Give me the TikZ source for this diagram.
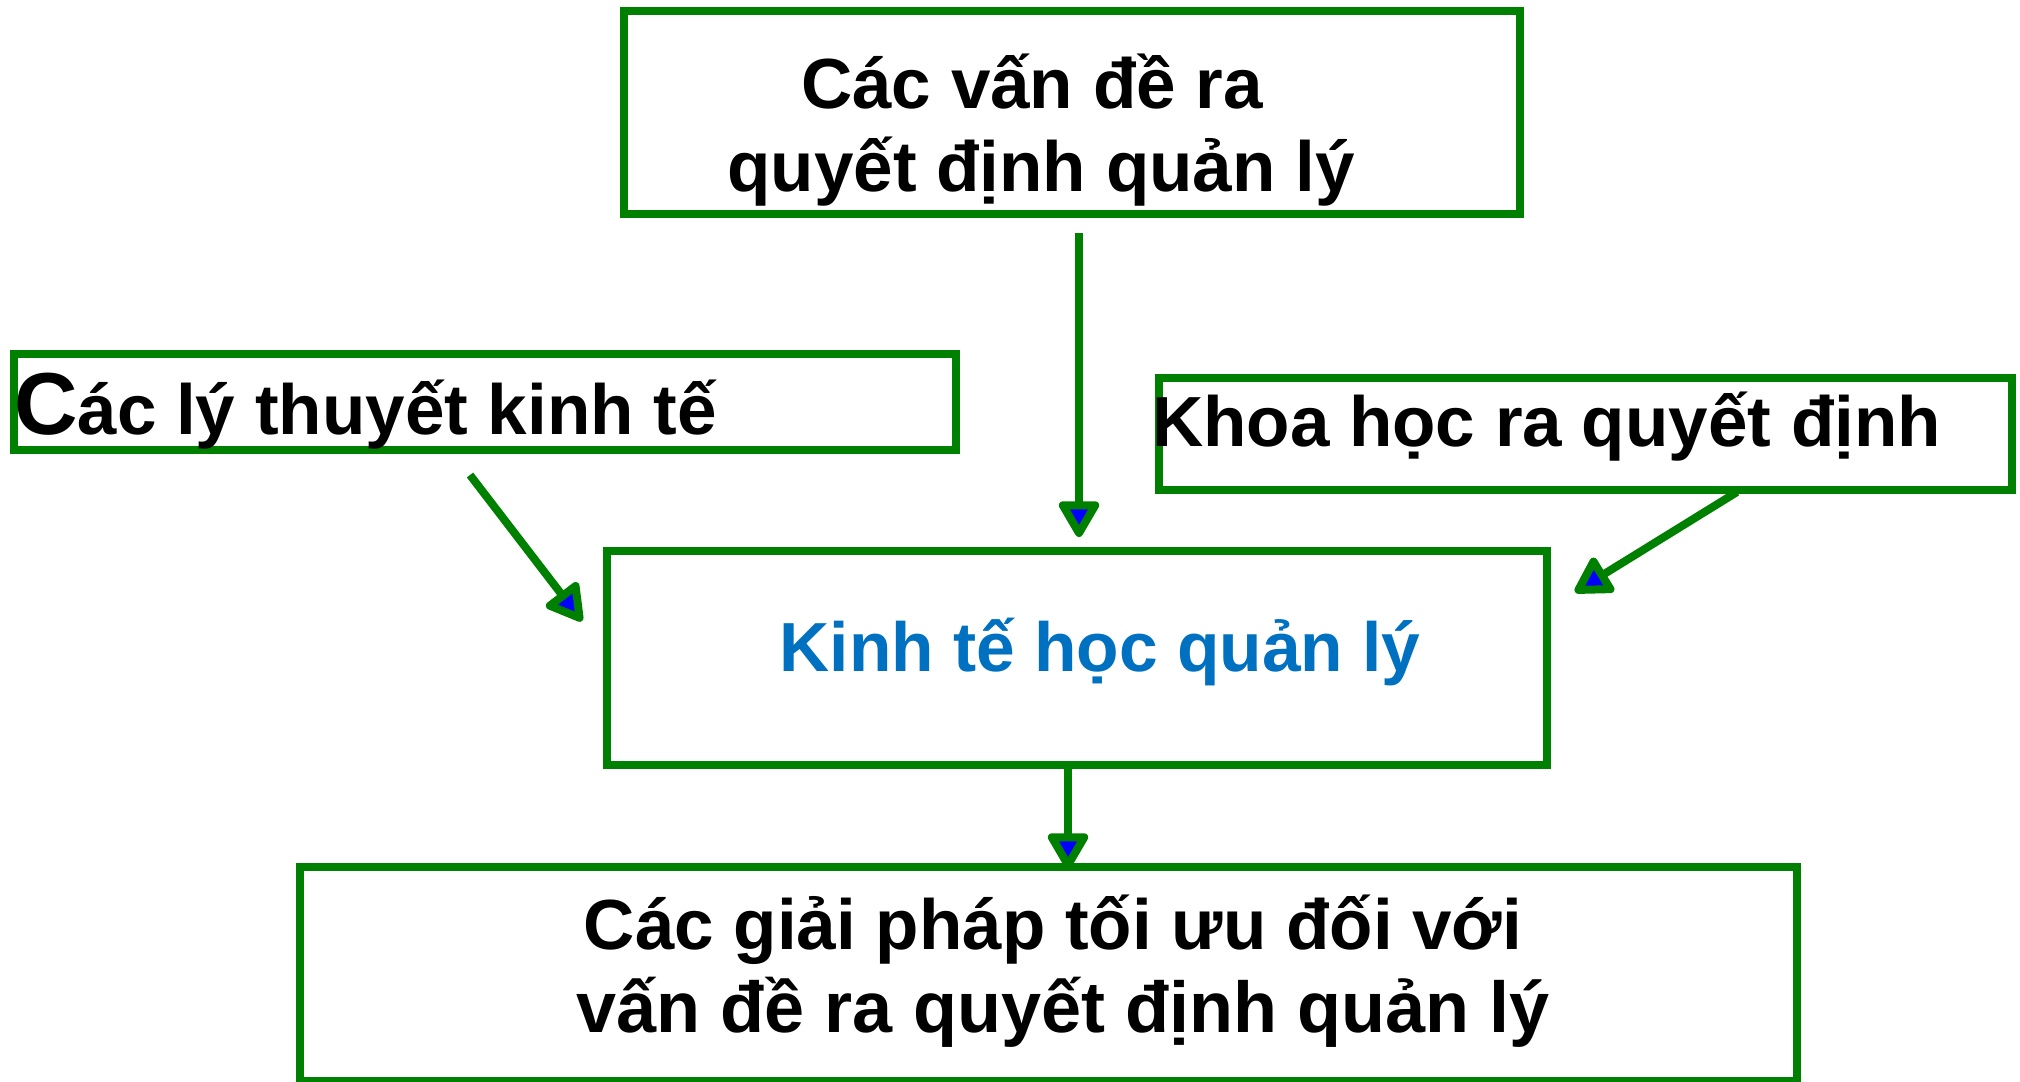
\documentclass[tikz,border=0pt]{standalone}
\usepackage{fontspec}
\setmainfont{Liberation Sans}
\usetikzlibrary{arrows.meta}
\definecolor{boxgreen}{RGB}{0,128,0}
\definecolor{titleblue}{RGB}{0,112,192}
\begin{document}
\begin{tikzpicture}[x=1pt,y=-1pt,
  box/.style={draw=boxgreen, line width=8pt, rectangle, inner sep=0pt, outer sep=0pt},
  lbl/.style={inner sep=0pt, outer sep=0pt, font=\fontsize{71}{83}\selectfont\bfseries},
  flow/.style={draw=boxgreen, line width=8pt,
    -{Triangle[length=40pt,width=44pt,fill=blue,line join=round]}}]
\useasboundingbox (0,0) rectangle (2020,1081);

% frames
\node[box, minimum width=896pt, minimum height=203pt] (problems) at (1072,112.5) {};
\node[box, minimum width=942pt, minimum height=96pt]  (theory)   at (485,402) {};
\node[box, minimum width=853pt, minimum height=112pt] (science)  at (1585.5,433.5) {};
\node[box, minimum width=940pt, minimum height=214pt] (mecon)    at (1077,658) {};
\node[box, minimum width=1497pt, minimum height=214pt] (solution) at (1048.5,974) {};

% texts
\node[lbl, anchor=base] (p1) at (1032,108) {Các vấn đề ra};
\node[lbl, anchor=base] (p2) at (1041,191) {quyết định quản lý};
\node[lbl, anchor=base west] (t1) at (14,434) {{\fontsize{88}{90}\selectfont C}ác lý thuyết kinh tế};
\node[lbl, anchor=base west] (s1) at (1152,446) {Khoa học ra quyết định};
\node[lbl, anchor=base, text=titleblue, font=\fontsize{69.5}{83}\selectfont\bfseries] (m1) at (1100,671) {Kinh tế học quản lý};
\node[lbl, anchor=base] (o1) at (1053,949) {Các giải pháp tối ưu đối với};
\node[lbl, anchor=base, font=\fontsize{72}{83}\selectfont\bfseries] (o2) at (1063,1032) {vấn đề ra quyết định quản lý};

% connector ends
\coordinate (a1s) at (1079,233);
\coordinate (a1e) at (1079,537);
\coordinate (a2s) at (470,475);
\coordinate (a2e) at (582,621);
\coordinate (a3s) at (1737,492);
\coordinate (a3e) at (1575,592);
\coordinate (a4s) at (1068,767);
\coordinate (a4e) at (1068,869);

\draw[flow] (a1s) -- (a1e);
\draw[flow] (a2s) -- (a2e);
\draw[flow] (a3s) -- (a3e);
\draw[flow] (a4s) -- (a4e);
\end{tikzpicture}
\end{document}
